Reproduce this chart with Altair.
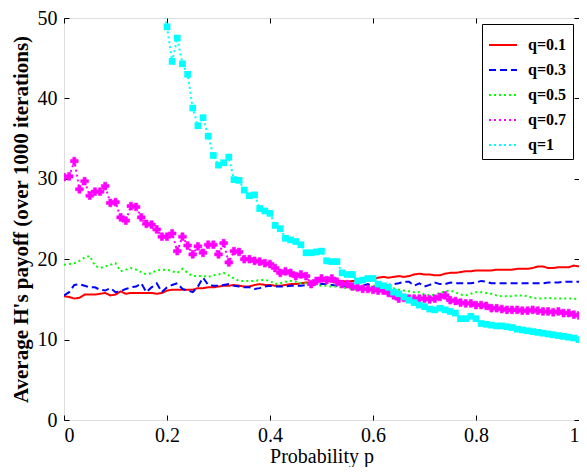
import altair as alt
import pandas as pd

P = [round(i / 100, 2) for i in range(101)]
Q_LABELS = ["q=0.1", "q=0.3", "q=0.5", "q=0.7", "q=1"]
COLORS = ["#ff0000", "#0000ff", "#00ff00", "#ff00ff", "#00ffff"]
DASHES = [[1, 0], [7, 4], [2, 3], [2, 3], [2, 3]]

RED = [15.4, 15.3, 15.1, 15.2, 15.6, 15.6, 15.6, 15.7, 15.8, 15.5,
       15.6, 16.0, 15.7, 15.8, 15.8, 15.8, 15.8, 15.8, 15.7, 15.8,
       16.1, 16.2, 16.2, 16.2, 16.2, 16.2, 16.4, 16.4, 16.5, 16.5,
       16.6, 16.7, 16.7, 16.8, 16.7, 16.6, 16.6, 16.8, 16.9, 16.8,
       16.8, 16.7, 16.7, 16.8, 16.9, 16.9, 17.0, 17.1, 17.1, 17.2,
       17.3, 17.3, 17.2, 17.3, 17.3, 17.2, 17.3, 17.3, 17.4, 17.4,
       17.5, 17.7, 17.8, 17.7, 17.8, 17.9, 17.8, 17.9, 18.1, 18.2,
       18.1, 18.1, 18.0, 18.0, 18.2, 18.3, 18.3, 18.4, 18.5, 18.5,
       18.6, 18.6, 18.6, 18.6, 18.7, 18.7, 18.7, 18.7, 18.8, 18.8,
       18.8, 18.9, 19.1, 19.1, 18.9, 18.9, 19.0, 19.0, 19.0, 19.2,
       19.1]

BLUE = [15.5, 15.9, 16.8, 16.9, 16.7, 16.5, 16.5, 16.2, 16.1, 16.4,
        15.9, 16.0, 16.3, 16.5, 16.6, 17.0, 15.9, 16.5, 17.0, 15.9,
        16.5, 16.8, 17.0, 16.3, 16.1, 15.9, 16.6, 17.7, 16.8, 16.7,
        16.7, 16.8, 16.9, 16.7, 16.6, 16.5, 16.5, 16.3, 16.4, 16.6,
        16.7, 16.6, 16.6, 16.6, 16.7, 16.7, 16.7, 16.8, 16.8, 16.8,
        16.9, 16.9, 16.8, 16.7, 16.7, 16.6, 16.6, 16.5, 16.7, 16.9,
        16.6, 16.5, 16.5, 16.8, 16.9, 17.0, 17.2, 17.2, 16.7, 17.0,
        16.6, 16.8, 17.1, 16.9, 16.9, 17.1, 17.0, 17.0, 17.0, 17.0,
        17.1, 17.3, 17.2, 17.0, 17.0, 17.0, 17.0, 17.0, 17.0, 17.0,
        17.0, 17.0, 17.0, 17.0, 17.1, 17.1, 17.1, 17.2, 17.2, 17.2,
        17.2]

GREEN = [19.3, 19.4, 19.5, 19.8, 20.2, 20.4, 19.2, 18.9, 19.1, 19.3,
         19.5, 18.5, 18.7, 18.9, 18.7, 18.4, 18.1, 18.3, 18.6, 18.7,
         18.7, 18.5, 18.3, 18.8, 18.3, 17.9, 17.9, 17.9, 17.8, 18.0,
         18.1, 18.3, 18.0, 17.6, 17.3, 17.3, 17.3, 17.3, 17.4, 17.4,
         17.3, 16.9, 17.0, 17.2, 17.3, 17.2, 17.0, 17.0, 16.9, 16.8,
         16.7, 16.7, 16.6, 16.6, 16.5, 16.4, 16.3, 16.2, 16.5, 16.6,
         16.7, 16.7, 16.6, 16.5, 16.4, 16.2, 16.1, 16.0, 15.9, 15.9,
         15.6, 15.5, 15.6, 15.8, 16.0, 16.1, 15.9, 15.6, 15.5, 15.7,
         15.9, 15.9, 15.8, 15.7, 15.5, 15.4, 15.4, 15.4, 15.5, 15.5,
         15.4, 15.2, 15.1, 15.1, 15.2, 15.1, 15.1, 15.1, 15.1, 15.1,
         15.0]

MAGENTA = [30.2, 30.3, 32.2, 28.7, 29.7, 27.9, 28.4, 28.4, 29.1, 27.0,
           27.1, 25.2, 24.8, 26.6, 26.5, 25.2, 24.4, 24.3, 23.7, 22.8,
           22.8, 23.2, 21.0, 22.8, 21.7, 20.6, 21.6, 20.8, 21.8, 21.8,
           20.6, 22.0, 19.6, 21.0, 20.9, 20.0, 20.0, 19.8, 19.7, 19.5,
           19.4, 18.9, 18.3, 18.5, 18.3, 17.9, 18.1, 17.9, 16.9, 17.3,
           17.6, 17.4, 17.6, 17.2, 16.9, 16.9, 16.6, 16.5, 16.3, 16.3,
           16.2, 16.1, 16.1, 15.8, 15.5, 15.1, 15.2, 15.1, 15.1, 15.1,
           15.1, 15.0, 15.1, 15.3, 15.5, 14.9, 14.8, 14.6, 14.5, 14.5,
           14.3, 14.3, 14.2, 13.9, 13.9, 13.8, 13.7, 13.7, 13.7, 13.6,
           13.6, 13.7, 13.6, 13.5, 13.5, 13.4, 13.5, 13.3, 13.3, 13.1,
           13.0]

CYAN_P = P[19:]
CYAN = [52.0, 48.9, 44.6, 47.5, 44.3, 43.0, 38.8, 36.6, 37.6, 35.3,
        32.9, 31.7, 32.0, 32.7, 29.9, 29.8, 28.6, 27.9, 28.0, 26.3,
        26.0, 25.7, 24.2, 23.8, 22.6, 22.4, 22.2, 21.8, 20.8, 20.8,
        20.9, 21.0, 19.8, 19.7, 19.7, 18.3, 18.1, 18.1, 17.3, 17.4,
        17.6, 17.6, 16.9, 16.7, 16.5, 15.9, 15.7, 15.3, 14.9, 14.6,
        14.3, 14.1, 13.8, 13.7, 13.9, 13.7, 13.5, 13.3, 12.6, 12.6,
        12.9, 12.6, 12.0, 11.9, 11.8, 11.7, 11.7, 11.6, 11.5, 11.3,
        11.2, 11.1, 11.0, 10.9, 10.8, 10.7, 10.6, 10.5, 10.4, 10.3,
        10.2, 10.0]

X_TICKS = [0, 0.2, 0.4, 0.6, 0.8, 1]
Y_TICKS = [0, 10, 20, 30, 40, 50]

rows = []
for lab, ps, vals in [(Q_LABELS[0], P, RED), (Q_LABELS[1], P, BLUE),
                      (Q_LABELS[2], P, GREEN), (Q_LABELS[3], P, MAGENTA),
                      (Q_LABELS[4], CYAN_P, CYAN)]:
    for p, v in zip(ps, vals):
        rows.append({"p": p, "v": v, "q": lab})
df = pd.DataFrame(rows)

FONT = "Liberation Serif"
xscale = alt.Scale(domain=[0, 1], nice=False, zero=False)
yscale = alt.Scale(domain=[0, 50], nice=False)

x_main = alt.X("p:Q", scale=xscale, axis=alt.Axis(
    values=X_TICKS, format="~g", title="Probability p", offset=-5, tickSize=5,
    domain=False, grid=False, labelPadding=5, titlePadding=1,
    labelFont=FONT, labelFontSize=20, titleFont=FONT, titleFontSize=20,
    titleFontWeight="normal", labelColor="#000", titleColor="#000", tickColor="#000"))
y_main = alt.Y("v:Q", scale=yscale, axis=alt.Axis(
    values=Y_TICKS, title="Average H's payoff (over 1000 iterations)", offset=-5,
    tickSize=5, domain=False, grid=False, labelPadding=7, titlePadding=6,
    labelFont=FONT, labelFontSize=20, titleFont=FONT, titleFontSize=21,
    titleFontWeight="bold", labelColor="#000", titleColor="#000", tickColor="#000"))

legend = alt.Legend(orient="top-right", offset=6, fillColor="white", strokeColor="#000",
                    padding=6, labelFont=FONT, labelFontSize=16, labelFontWeight="bold",
                    labelColor="#000", symbolType="stroke", symbolSize=784,
                    symbolStrokeWidth=2, rowPadding=2, labelOffset=10)

lines = alt.Chart(df).mark_line(strokeWidth=2, clip=True).encode(
    x=x_main, y=y_main,
    color=alt.Color("q:N", scale=alt.Scale(domain=Q_LABELS, range=COLORS), title=None, legend=legend),
    strokeDash=alt.StrokeDash("q:N", scale=alt.Scale(domain=Q_LABELS, range=DASHES), title=None, legend=legend),
    order=alt.Order("p:Q"),
)

pts_m = alt.Chart(df).transform_filter(alt.datum.q == "q=0.7").mark_point(
    shape="cross", filled=True, size=60, color="#ff00ff", stroke="#ff00ff",
    strokeWidth=0.6, opacity=1, clip=True).encode(
    x=alt.X("p:Q", scale=xscale, axis=None), y=alt.Y("v:Q", scale=yscale, axis=None))

pts_c = alt.Chart(df).transform_filter(alt.datum.q == "q=1").mark_point(
    shape="square", filled=True, size=45, color="#00ffff", opacity=1, clip=True).encode(
    x=alt.X("p:Q", scale=xscale, axis=None), y=alt.Y("v:Q", scale=yscale, axis=None))

mirror = alt.Chart(df).mark_line(opacity=0, clip=True).encode(
    x=alt.X("p:Q", scale=xscale, axis=alt.Axis(
        orient="top", values=X_TICKS, labels=False, title=None, offset=-5, tickSize=5,
        domain=False, grid=False, tickColor="#000")),
    y=alt.Y("v:Q", scale=yscale, axis=alt.Axis(
        orient="right", values=Y_TICKS, labels=False, title=None, offset=-5, tickSize=5,
        domain=False, grid=False, tickColor="#000")),
    detail="q:N",
)

chart = alt.layer(lines, pts_m, pts_c, mirror).resolve_axis(
    x="independent", y="independent"
).properties(
    width=515, height=402,
    autosize=alt.AutoSizeParams(type="none"),
    padding={"left": 56, "top": 10, "right": 0, "bottom": 47},
).configure_view(stroke="#000", strokeWidth=1.5).configure(background="white")

chart.save("out.html", embed_options={"renderer": "svg", "actions": False})
